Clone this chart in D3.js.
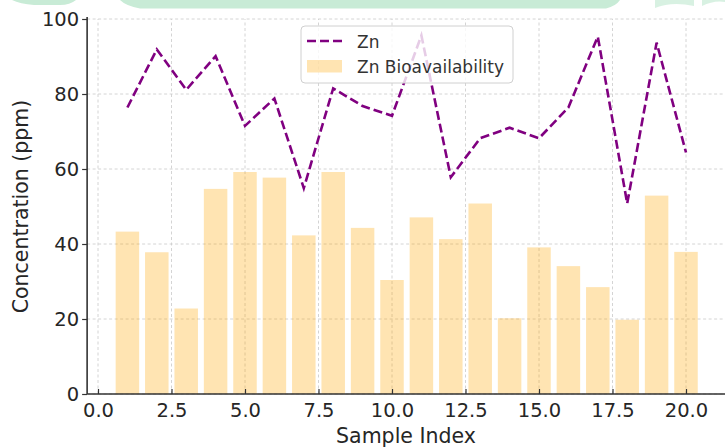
<!DOCTYPE html>
<html lang="en">
<head>
  <meta charset="UTF-8">
  <title>Zn concentration</title>
  <style>
    html, body {
      margin: 0;
      padding: 0;
      background: #fff;
    }

    svg {
      display: block;
      font-family: 'DejaVu Sans', sans-serif;
    }
  </style>
</head>
<body>
<div class="chart"></div>
</body>
<script src="https://d3js.org/d3.v7.min.js"></script>
<script>
  // data
  let samples = d3.range(1, 21)
  let zn = [76.4, 91.9, 81.1, 90.1, 71.5, 78.8, 54.9, 81.5, 76.8, 74.2,
    95.6, 57.8, 68.2, 71.0, 68.2, 76.4, 95.3, 50.8, 93.7, 64.4]
  let znBio = [43.3, 37.8, 22.8, 54.7, 59.2, 57.7, 42.3, 59.2, 44.3, 30.4,
    47.1, 41.3, 50.8, 20.2, 39.1, 34.1, 28.5, 19.8, 52.9, 37.9]
  let xTicks = [0, 2.5, 5, 7.5, 10, 12.5, 15, 17.5, 20]
  let yTicks = [0, 20, 40, 60, 80, 100]

  let width = 725, height = 448

  let svg = d3.select('.chart').append('svg')
    .attr('width', width)
    .attr('height', height)

  // 0 -> 98px, 20 -> 686px
  let x = d3.scaleLinear()
    .domain([-0.37, 21.4])
    .range([98 - 0.37 * 29.4, 98 + 21.4 * 29.4])

  let y = d3.scaleLinear()
    .domain([0, 100])
    .range([394, 19])

  let left = x.range()[0]

  // grid
  let grid = svg.append('g')
    .attr('stroke', '#cfcfcf')
    .attr('stroke-width', 0.9)
    .attr('stroke-dasharray', '3,2.5')

  grid.selectAll('.gx')
    .data(xTicks)
    .enter()
    .append('line')
    .attr('x1', d => x(d))
    .attr('x2', d => x(d))
    .attr('y1', y(0))
    .attr('y2', y(100))

  grid.selectAll('.gy')
    .data(yTicks)
    .enter()
    .append('line')
    .attr('x1', left)
    .attr('x2', width)
    .attr('y1', d => y(d))
    .attr('y2', d => y(d))

  // bars
  let barW = x(0.8) - x(0)
  svg.append('g')
    .selectAll('rect')
    .data(znBio)
    .enter()
    .append('rect')
    .attr('x', (d, i) => x(samples[i]) - barW / 2)
    .attr('y', d => y(d))
    .attr('width', barW)
    .attr('height', d => y(0) - y(d))
    .attr('fill', 'orange')
    .attr('fill-opacity', 0.3)

  // line
  let line = d3.line()
    .x((d, i) => x(samples[i]))
    .y(d => y(d))

  svg.append('path')
    .datum(zn)
    .attr('d', line)
    .attr('fill', 'none')
    .attr('stroke', 'purple')
    .attr('stroke-width', 2.6)
    .attr('stroke-dasharray', '9,4')
    .attr('stroke-linejoin', 'miter')

  // axes
  let xAxis = d3.axisBottom(x)
    .tickValues(xTicks)
    .tickFormat(d3.format('.1f'))
    .tickSizeInner(-5)
    .tickSizeOuter(0)
    .tickPadding(9)

  let yAxis = d3.axisLeft(y)
    .tickValues(yTicks)
    .tickSizeInner(5)
    .tickSizeOuter(0)
    .tickPadding(3)

  let gx = svg.append('g')
    .attr('transform', 'translate(0,' + y(0) + ')')
    .call(xAxis)

  let gy = svg.append('g')
    .attr('transform', 'translate(' + left + ',0)')
    .call(yAxis)

  ;[gx, gy].forEach(g => {
    g.select('.domain').attr('stroke', '#333').attr('stroke-width', 1.6)
    g.selectAll('.tick line').attr('stroke', '#333').attr('stroke-width', 1.2)
    g.selectAll('.tick text')
      .attr('fill', '#262626')
      .style('font-size', '19.5px')
      .style('font-family', 'DejaVu Sans')
  })
  gx.select('.domain').attr('d', 'M' + left + ',0H' + width)
  gy.select('.domain').attr('d', 'M0,' + (y(100) - 2) + 'V' + y(0))

  // axis labels
  svg.append('text')
    .attr('x', 406)
    .attr('y', 443)
    .attr('text-anchor', 'middle')
    .attr('fill', '#262626')
    .style('font-size', '20.5px')
    .text('Sample Index')

  svg.append('text')
    .attr('transform', 'translate(28,206.5) rotate(-90)')
    .attr('text-anchor', 'middle')
    .attr('fill', '#262626')
    .style('font-size', '20.5px')
    .text('Concentration (ppm)')

  // legend
  let lg = svg.append('g')
  lg.append('rect')
    .attr('x', 301)
    .attr('y', 26)
    .attr('width', 212)
    .attr('height', 57)
    .attr('rx', 4)
    .attr('fill', '#fff')
    .attr('fill-opacity', 0.8)
    .attr('stroke', '#d0d0d0')
    .attr('stroke-width', 1)

  lg.append('line')
    .attr('x1', 307)
    .attr('x2', 343)
    .attr('y1', 41)
    .attr('y2', 41)
    .attr('stroke', 'purple')
    .attr('stroke-width', 2.6)
    .attr('stroke-dasharray', '9,4')

  lg.append('rect')
    .attr('x', 307)
    .attr('y', 60)
    .attr('width', 35)
    .attr('height', 12.5)
    .attr('fill', 'orange')
    .attr('fill-opacity', 0.3)

  lg.selectAll('.ltxt')
    .data(['Zn', 'Zn Bioavailability'])
    .enter()
    .append('text')
    .attr('x', 357)
    .attr('y', (d, i) => 47.5 + i * 25.5)
    .attr('fill', '#333')
    .style('font-size', '17px')
    .text(d => d)

  // green banner at the top edge
  let banner = svg.append('g').attr('fill', '#c8ebd6')
  banner.append('path')
    .attr('d', 'M120,0 L620,0 Q616,6 606,8.5 L140,8.5 Q126,6 120,0 Z')
  banner.append('path')
    .attr('d', 'M12,0 L76,0 Q70,5 60,5 L34,5 Q20,4 12,0 Z')
  banner.append('path')
    .attr('d', 'M655,8 Q672,1 694,6 L694,0 L655,0 Z')
    .attr('opacity', 0.7)
  banner.append('path')
    .attr('d', 'M702,6 Q714,0 725,2 L725,0 L702,0 Z')
    .attr('opacity', 0.7)
</script>
</html>
